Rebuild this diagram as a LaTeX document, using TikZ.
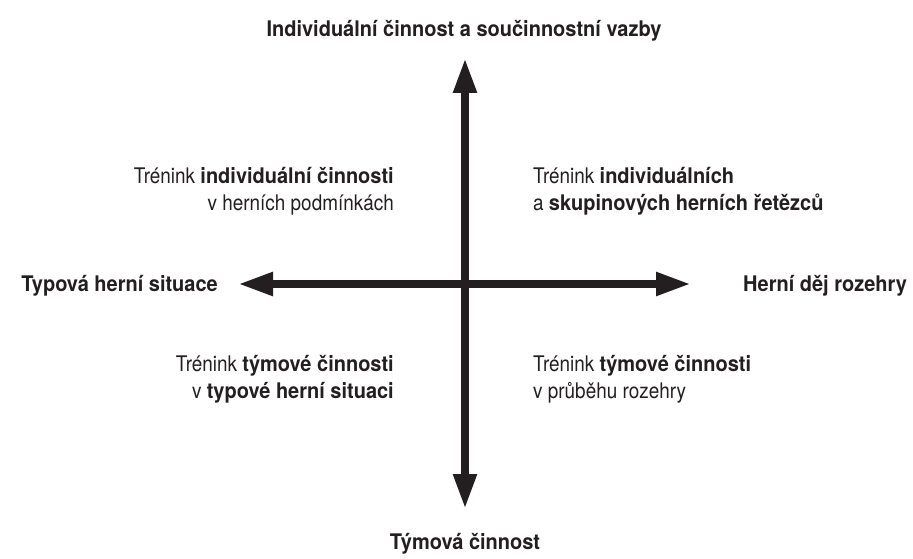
\documentclass[tikz,border=0pt]{standalone}
\usepackage{fontspec}
\setmainfont{TeX Gyre Heros}[FakeStretch=0.88, BoldFeatures={FakeStretch=0.93}]
\usetikzlibrary{arrows.meta}
\definecolor{ink}{HTML}{231F20}
\tikzset{
  axis/.style={draw=ink, line width=8pt, {Triangle[length=35pt,width=22pt]}-{Triangle[length=35pt,width=22pt]}},
  pole/.style={text=ink, inner sep=0pt, font=\fontsize{21.5}{27}\selectfont\bfseries},
  quad/.style={text=ink, inner sep=0pt, font=\fontsize{21.5}{27}\selectfont},
}
\begin{document}
\begin{tikzpicture}[x=1pt,y=-1pt]
\useasboundingbox (0,0) rectangle (913,559);
\coordinate (top) at (465,58);
\coordinate (bot) at (465,509);
\coordinate (lft) at (238,284);
\coordinate (rgt) at (691,284);
\draw[axis] (bot) -- (top);
\draw[axis] (lft) -- (rgt);
\node[pole, anchor=base] (ttop) at (464,37) {Individuální činnost a součinnostní vazby};
\node[pole, anchor=base] (tbot) at (465,549) {Týmová činnost};
\node[pole, anchor=base east] (tlft) at (218,291) {Typová herní situace};
\node[pole, anchor=base west] (trgt) at (743,291) {Herní děj rozehry};
\node[quad, anchor=base east, align=right] (ul) at (394,210) {Trénink \textbf{individuální činnosti}\\v herních podmínkách};
\node[quad, anchor=base west, align=left] (ur) at (533,210) {Trénink \textbf{individuálních}\\a \textbf{skupinových herních řetězců}};
\node[quad, anchor=base east, align=right] (ll) at (394,398) {Trénink \textbf{týmové činnosti}\\v \textbf{typové herní situaci}};
\node[quad, anchor=base west, align=left] (lr) at (533,398) {Trénink \textbf{týmové činnosti}\\v průběhu rozehry};
\end{tikzpicture}
\end{document}
